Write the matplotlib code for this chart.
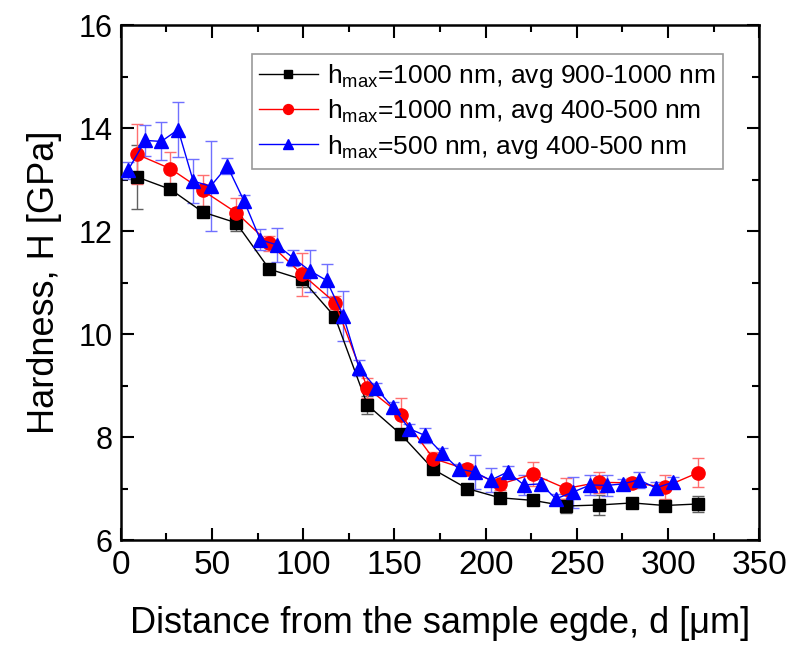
import matplotlib
matplotlib.use("Agg")
import matplotlib.pyplot as plt
from matplotlib.ticker import MultipleLocator

plt.rcParams['font.family'] = ['Liberation Sans', 'DejaVu Sans']
plt.rcParams['mathtext.fontset'] = 'custom'
plt.rcParams['mathtext.rm'] = 'Liberation Sans'

# Series 1: hmax=1000 nm, avg 900-1000 nm
x_black = [8.8, 27.2, 44.8, 63.2, 81.4, 99.4, 117.4, 135.2, 153.6, 171.4, 189.8,
           207.8, 225.8, 244.0, 262.0, 280.4, 298.2, 316.6]
y_black = [13.05, 12.81, 12.37, 12.16, 11.26, 11.06, 10.33, 8.62, 8.05, 7.37, 7.0,
           6.82, 6.77, 6.66, 6.68, 6.72, 6.67, 6.70]
e_black = [0.62, 0.08, 0.1, 0.15, 0.08, 0.15, 0.1, 0.17, 0.1, 0.08, 0.08,
           0.06, 0.06, 0.14, 0.2, 0.06, 0.08, 0.15]

# Series 2: hmax=1000 nm, avg 400-500 nm
x_red = x_black
y_red = [13.49, 13.21, 12.79, 12.36, 11.76, 11.16, 10.61, 8.95, 8.43, 7.58, 7.37,
         7.08, 7.28, 7.0, 7.12, 7.11, 7.03, 7.31]
e_red = [0.58, 0.32, 0.3, 0.28, 0.15, 0.42, 0.12, 0.2, 0.33, 0.12, 0.1,
         0.1, 0.23, 0.2, 0.2, 0.1, 0.23, 0.28]

# Series 3: hmax=500 nm, avg 400-500 nm
x_blue = [3.9, 13.4, 22.2, 31.4, 39.7, 49.2, 58.4, 67.6, 76.5, 85.6, 94.4, 103.6,
          112.8, 122.0, 130.6, 139.9, 149.0, 158.2, 166.8, 176.0, 185.2, 194.0,
          202.7, 212.0, 221.0, 230.2, 238.5, 247.9, 257.4, 266.3, 275.4, 284.0,
          293.3, 302.5]
y_blue = [13.18, 13.76, 13.74, 13.97, 12.97, 12.87, 13.26, 12.58, 11.83, 11.73,
          11.48, 11.23, 11.04, 10.35, 9.34, 8.95, 8.58, 8.16, 8.03, 7.69, 7.38,
          7.32, 7.16, 7.32, 7.07, 7.09, 6.80, 6.93, 7.07, 7.06, 7.09, 7.17, 7.01,
          7.12]
e_blue = [0.17, 0.3, 0.37, 0.54, 0.42, 0.87, 0.15, 0.12, 0.2, 0.33, 0.16, 0.41,
          0.32, 0.48, 0.16, 0.1, 0.1, 0.1, 0.15, 0.1, 0.1, 0.33, 0.23, 0.12, 0.2,
          0.1, 0.1, 0.3, 0.2, 0.2, 0.1, 0.16, 0.12, 0.1]

labels = [r"h$_{\mathrm{max}}$=1000 nm, avg 900-1000 nm",
          r"h$_{\mathrm{max}}$=1000 nm, avg 400-500 nm",
          r"h$_{\mathrm{max}}$=500 nm, avg 400-500 nm"]

fig = plt.figure(figsize=(7.95, 6.51), dpi=100)
ax = fig.add_axes([0.152, 0.1705, 0.803, 0.791])

series = [
    (x_black, y_black, e_black, 'black', '#606060', 's', 8.5),
    (x_red, y_red, e_red, 'red', '#ff7070', 'o', 9.5),
    (x_blue, y_blue, e_blue, 'blue', '#7070ff', '^', 10.5),
]
handles = []
for (xs, ys, es, c, ec, m, ms), lab in zip(series, labels):
    ax.errorbar(xs, ys, yerr=es, fmt='none', ecolor=ec, elinewidth=1.0,
                capsize=4, capthick=1.0, zorder=2)
    h, = ax.plot(xs, ys, color=c, lw=1.0, marker=m, ms=ms, mfc=c, mec=c,
                 zorder=3, label=lab)
    handles.append(h)

ax.set_xlim(0, 350)
ax.set_ylim(6, 16)
ax.xaxis.set_major_locator(MultipleLocator(50))
ax.xaxis.set_minor_locator(MultipleLocator(25))
ax.yaxis.set_major_locator(MultipleLocator(2))
ax.yaxis.set_minor_locator(MultipleLocator(1))
ax.tick_params(which='both', direction='in', top=True, right=True, width=1.5)
ax.tick_params(axis='x', labelsize=24, pad=7)
ax.tick_params(axis='y', labelsize=22, pad=6)
ax.tick_params(which='major', length=9)
ax.tick_params(which='minor', length=5)
for s in ax.spines.values():
    s.set_linewidth(1.8)

ax.set_xlabel(r"Distance from the sample egde, d [μm]", fontsize=26, labelpad=18)
ax.set_ylabel("Hardness, H [GPa]", fontsize=26, labelpad=12)

leg = ax.legend(handles=handles, loc='upper right', bbox_to_anchor=(0.944, 0.944),
                fontsize=19, frameon=True, fancybox=False, edgecolor='#808080',
                handlelength=2.2, handletextpad=0.35, borderpad=0.3,
                borderaxespad=0.0, labelspacing=0.28, markerscale=0.75)
leg.get_frame().set_linewidth(1.2)

fig.savefig("out.png", dpi=100)
